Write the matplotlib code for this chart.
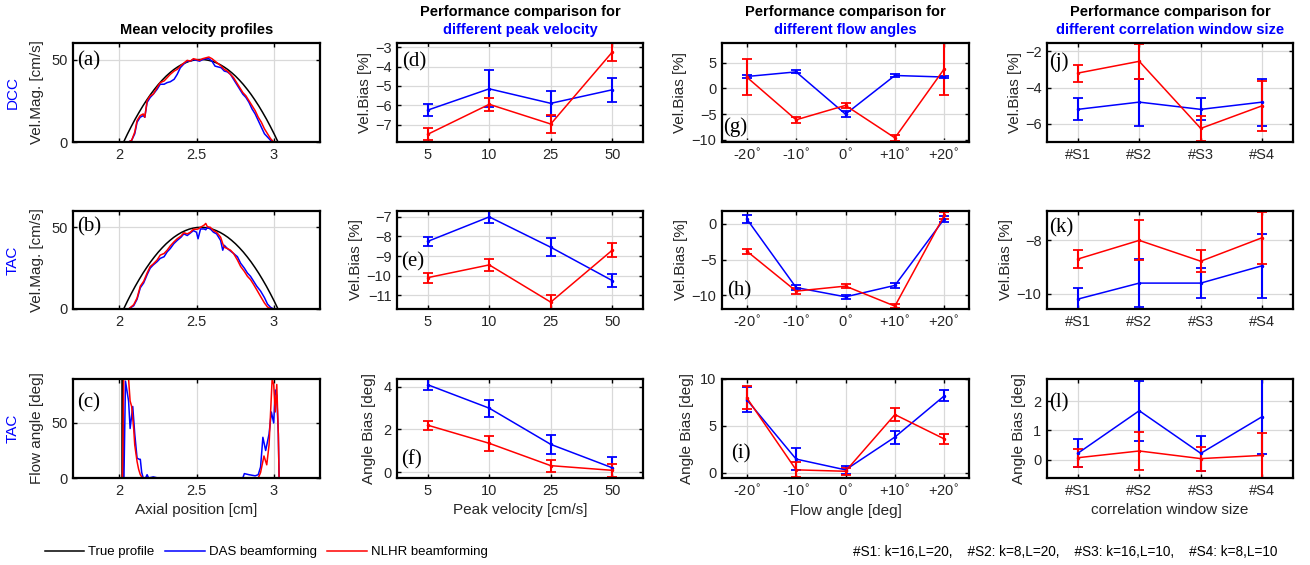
import matplotlib
matplotlib.use("Agg")
import matplotlib.pyplot as plt
from matplotlib.lines import Line2D

plt.rcParams['font.family'] = ['Liberation Sans', 'DejaVu Sans']

BLUE = (0, 0, 1)
RED = (1, 0, 0)

# ---- velocity profile data (axial position [cm], velocity [cm/s]) ----
true_x = [1.70, 2.028, 2.053, 2.078, 2.103, 2.128, 2.153, 2.178, 2.203, 2.228, 2.253,
          2.278, 2.303, 2.328, 2.353, 2.378, 2.403, 2.428, 2.453, 2.478, 2.503, 2.528,
          2.553, 2.578, 2.603, 2.628, 2.653, 2.678, 2.703, 2.728, 2.753, 2.778, 2.803,
          2.828, 2.853, 2.878, 2.903, 2.928, 2.953, 2.978, 3.003, 3.028, 3.30]
true_v = [0, 0, 4.9, 9.5, 13.9, 18.0, 21.9, 25.5, 28.9, 32.0, 34.9,
          37.5, 39.9, 42.0, 43.9, 45.5, 46.9, 48.0, 48.9, 49.5, 49.9, 50.0,
          49.9, 49.5, 48.9, 48.0, 46.9, 45.5, 43.9, 42.0, 39.9, 37.5, 34.9,
          32.0, 28.9, 25.5, 21.9, 18.0, 13.9, 9.5, 4.9, 0, 0]

a_x = [1.70, 2.06, 2.08, 2.10, 2.115, 2.135, 2.155, 2.165, 2.18, 2.20, 2.22, 2.245, 2.265,
       2.29, 2.31, 2.33, 2.355, 2.375, 2.395, 2.42, 2.44, 2.46, 2.48, 2.50, 2.52, 2.54,
       2.56, 2.58, 2.60, 2.62, 2.64, 2.66, 2.68, 2.70, 2.72, 2.74, 2.76, 2.78, 2.80, 2.82,
       2.84, 2.86, 2.88, 2.90, 2.92, 2.94, 2.96, 2.98, 3.00, 3.30]
a_das = [0, 0, 1, 5, 12, 15, 16, 15, 24, 27, 29, 32, 35,
         35, 36, 36.5, 38, 41, 45, 47.5, 49, 49, 50, 49.5, 49, 50,
         50.5, 50.5, 49, 46, 45.5, 45, 43, 42.5, 41, 38, 35, 32, 29, 27,
         24, 20, 17, 13, 9, 5, 3, 1, 0, 0]
a_nlhr = [0, 0, 1, 6, 13, 16, 17, 15, 25, 28, 29, 33, 36,
          37, 39, 41, 43, 44, 46, 48, 49.5, 49, 50.5, 50, 49.5, 50.5,
          51, 51.5, 50.5, 49, 47.5, 46, 44, 43, 41, 39, 36, 33, 30, 28,
          25, 22, 19, 15, 12, 8, 5, 2, 0, 0]

b_x = [1.70, 2.06, 2.093, 2.115, 2.136, 2.158, 2.18, 2.20, 2.22, 2.245, 2.265, 2.29, 2.31,
       2.33, 2.353, 2.375, 2.40, 2.418, 2.44, 2.46, 2.48, 2.50, 2.51, 2.526, 2.55, 2.56,
       2.57, 2.59, 2.61, 2.63, 2.656, 2.67, 2.68, 2.70, 2.72, 2.74, 2.765, 2.786, 2.81,
       2.83, 2.85, 2.87, 2.89, 2.915, 2.94, 2.96, 2.98, 3.00, 3.30]
b_das = [0, 0, 2, 6, 13, 16, 21, 25, 27, 29, 31, 32, 35,
         37, 40, 42, 44, 46, 45, 46.5, 48, 47, 43, 49, 49, 48.5,
         50, 49, 47, 46, 42, 36, 39, 37, 35.5, 34, 32, 28, 25,
         22, 20, 17, 14, 11, 7, 3, 1, 0, 0]
b_nlhr = [0, 0, 2.6, 6.7, 14, 17, 22, 26, 27.6, 30, 33, 34, 36,
          38.6, 41, 43, 44.7, 46.7, 46, 47, 48.8, 48.8, 49, 50, 51.4, 52.4,
          50.4, 50, 48, 47, 44, 40, 37.8, 37, 36, 34, 30, 26, 23,
          20, 18, 15, 11.8, 7.7, 3.7, 1.2, 0.3, 0, 0]

# ---- flow angle data (axial position [cm], angle [deg]) ----
c_true_x = [1.70, 2.02, 2.02, 2.024, 2.024, 3.30]
c_true_v = [0, 0, 90, 90, 0, 0]
c_das_x = [1.70, 2.03, 2.04, 2.06, 2.07, 2.087, 2.10, 2.115, 2.13, 2.136, 2.145, 2.155,
           2.17, 2.18, 2.19, 2.22, 2.25, 2.80, 2.81, 2.84, 2.88, 2.90, 2.915, 2.93,
           2.948, 2.97, 2.985, 3.00, 3.01, 3.02, 3.03, 3.035, 3.30]
c_das_v = [0, 0, 88, 70, 45, 65, 40, 18, 17, 17, 5, 0,
           0, 3, 0, 1, 0, 0, 4, 3, 2, 3, 10, 37,
           25, 40, 60, 50, 80, 75, 40, 0, 0]
c_nlhr_x = [1.70, 2.02, 2.028, 2.06, 2.07, 2.08, 2.093, 2.10, 2.115, 2.125, 2.136, 2.15,
            2.90, 2.915, 2.937, 2.955, 2.97, 2.98, 2.99, 3.00, 3.01, 3.02, 3.03, 3.035, 3.30]
c_nlhr_v = [0, 0, 90, 90, 70, 65, 45, 30, 15, 8, 3, 0,
            0, 5, 20, 12, 30, 60, 90, 85, 60, 85, 40, 0, 0]

# ---- performance comparison data: mean and half error bar ----
peak_labels = ['5', '10', '25', '50']
angle_labels = ['-20$^{\\circ}$', '-10$^{\\circ}$', '0$^{\\circ}$', '+10$^{\\circ}$', '+20$^{\\circ}$']
win_labels = ['#S1', '#S2', '#S3', '#S4']

d_das, d_das_err = [-6.25, -5.15, -5.9, -5.2], [0.3, 0.95, 0.65, 0.62]
d_nlhr, d_nlhr_err = [-7.5, -5.95, -6.97, -3.25], [0.3, 0.35, 0.47, 0.47]
e_das, e_das_err = [-8.25, -7.0, -8.55, -10.25], [0.22, 0.3, 0.45, 0.33]
e_nlhr, e_nlhr_err = [-10.1, -9.45, -11.35, -8.7], [0.25, 0.3, 0.35, 0.35]
f_das, f_das_err = [4.1, 3.0, 1.3, 0.2], [0.25, 0.4, 0.45, 0.5]
f_nlhr, f_nlhr_err = [2.2, 1.35, 0.3, 0.08], [0.22, 0.35, 0.28, 0.3]

g_das, g_das_err = [2.3, 3.2, -5.0, 2.5, 2.2], [0.2, 0.3, 0.6, 0.3, 0.2]
g_nlhr, g_nlhr_err = [2.2, -6.1, -3.3, -9.6, 3.8], [3.5, 0.6, 0.5, 0.6, 5.0]
h_das, h_das_err = [0.7, -8.9, -10.2, -8.6, 0.7], [0.55, 0.3, 0.3, 0.35, 0.4]
h_nlhr, h_nlhr_err = [-3.8, -9.4, -8.7, -11.5, 1.2], [0.35, 0.4, 0.25, 0.3, 0.5]
i_das, i_das_err = [7.8, 1.45, 0.3, 3.8, 8.2], [1.3, 1.2, 0.4, 0.7, 0.6]
i_nlhr, i_nlhr_err = [8.0, 0.3, 0.15, 6.2, 3.6], [1.2, 0.8, 0.4, 0.7, 0.55]

j_das, j_das_err = [-5.2, -4.8, -5.2, -4.8], [0.6, 1.3, 0.6, 1.3]
j_nlhr, j_nlhr_err = [-3.2, -2.55, -6.25, -5.0], [0.47, 0.98, 0.7, 1.38]
k_das, k_das_err = [-10.2, -9.6, -9.6, -8.95], [0.4, 0.9, 0.55, 1.2]
k_nlhr, k_nlhr_err = [-8.7, -8.0, -8.78, -7.9], [0.35, 0.75, 0.42, 0.97]
l_das, l_das_err = [0.22, 1.67, 0.22, 1.47], [0.48, 1.02, 0.6, 1.28]
l_nlhr, l_nlhr_err = [0.07, 0.3, 0.04, 0.15], [0.3, 0.65, 0.41, 0.77]

# ---- layout (pixel boxes of the reference) ----
W, H = 1310, 565
fig = plt.figure(figsize=(W / 100, H / 100), dpi=100)
col_px = [(73, 320), (397, 643), (722, 969), (1047, 1293)]
row_px = [(43, 142), (211, 309), (379, 478)]


def make_ax(r, c):
    x0, x1 = col_px[c]
    y0, y1 = row_px[r]
    ax = fig.add_axes([x0 / W, 1 - y1 / H, (x1 - x0) / W, (y1 - y0) / H])
    ax.grid(True, color='#d9d9d9', lw=0.9)
    ax.set_axisbelow(True)
    for s in ax.spines.values():
        s.set_linewidth(1.6)
    ax.tick_params(direction='in', top=True, right=True, length=3, width=1,
                   labelsize=10.5, labelcolor='#262626', pad=4)
    return ax


def panel_label(ax, txt, x, y):
    ax.text(x, y, txt, transform=ax.transAxes, family='Liberation Serif',
            fontsize=15, ha='left', va='center')


def ylab(ax, txt, xoff):
    ax.set_ylabel(txt, fontsize=11, color='#262626', va='center')
    ax.yaxis.set_label_coords(xoff, 0.5)


def perf(ax, labels, das, das_err, nlhr, nlhr_err, ylim, yticks):
    pos = list(range(1, len(labels) + 1))
    for m, e, col in ((das, das_err, BLUE), (nlhr, nlhr_err, RED)):
        ax.errorbar(pos, m, yerr=e, color=col, lw=1.1, elinewidth=1.5,
                    capsize=3.5, capthick=1.3, marker='.', ms=3)
    ax.set_xlim(0.5, len(labels) + 0.5)
    ax.set_xticks(pos)
    ax.set_xticklabels(labels)
    ax.set_ylim(*ylim)
    ax.set_yticks(yticks)


# column 1: profiles
for r, (px, das, nlhr, lab) in enumerate([(a_x, a_das, a_nlhr, '(a)'),
                                         (b_x, b_das, b_nlhr, '(b)')]):
    ax = make_ax(r, 0)
    ax.plot(true_x, true_v, color='k', lw=1.1)
    ax.plot(px, das, color=BLUE, lw=1.1)
    ax.plot(px, nlhr, color=RED, lw=1.1)
    ax.set_xlim(1.7, 3.3)
    ax.set_ylim(0, 60)
    ax.set_xticks([2, 2.5, 3])
    ax.set_xticklabels(['2', '2.5', '3'])
    ax.set_yticks([0, 50])
    ylab(ax, 'Vel.Mag. [cm/s]', -0.146)
    panel_label(ax, lab, 0.018, 0.82 if r == 0 else 0.84)

ax = make_ax(2, 0)
ax.plot(c_true_x, c_true_v, color='k', lw=1.1)
ax.plot(c_das_x, c_das_v, color=BLUE, lw=1.1)
ax.plot(c_nlhr_x, c_nlhr_v, color=RED, lw=1.1)
ax.set_xlim(1.7, 3.3)
ax.set_ylim(0, 90)
ax.set_xticks([2, 2.5, 3])
ax.set_xticklabels(['2', '2.5', '3'])
ax.set_yticks([0, 50])
ylab(ax, 'Flow angle [deg]', -0.146)
ax.set_xlabel('Axial position [cm]', fontsize=11, color='#262626')
panel_label(ax, '(c)', 0.018, 0.76)

# column 2: peak velocity
ax = make_ax(0, 1)
perf(ax, peak_labels, d_das, d_das_err, d_nlhr, d_nlhr_err, (-7.9, -2.78), [-7, -6, -5, -4, -3])
ylab(ax, 'Vel.Bias [%]', -0.13)
panel_label(ax, '(d)', 0.02, 0.81)
ax = make_ax(1, 1)
perf(ax, peak_labels, e_das, e_das_err, e_nlhr, e_nlhr_err, (-11.7, -6.7), [-11, -10, -9, -8, -7])
ylab(ax, 'Vel.Bias [%]', -0.168)
panel_label(ax, '(e)', 0.016, 0.48)
ax = make_ax(2, 1)
perf(ax, peak_labels, f_das, f_das_err, f_nlhr, f_nlhr_err, (-0.28, 4.37), [0, 2, 4])
ylab(ax, 'Angle Bias [deg]', -0.115)
ax.set_xlabel('Peak velocity [cm/s]', fontsize=11, color='#262626')
panel_label(ax, '(f)', 0.016, 0.18)

# column 3: flow angles
ax = make_ax(0, 2)
perf(ax, angle_labels, g_das, g_das_err, g_nlhr, g_nlhr_err, (-10.4, 8.8), [-10, -5, 0, 5])
ylab(ax, 'Vel.Bias [%]', -0.17)
panel_label(ax, '(g)', 0.006, 0.15)
ax = make_ax(1, 2)
perf(ax, angle_labels, h_das, h_das_err, h_nlhr, h_nlhr_err, (-11.9, 1.8), [-10, -5, 0])
ylab(ax, 'Vel.Bias [%]', -0.165)
panel_label(ax, '(h)', 0.02, 0.19)
ax = make_ax(2, 2)
perf(ax, angle_labels, i_das, i_das_err, i_nlhr, i_nlhr_err, (-0.57, 10), [0, 5, 10])
ylab(ax, 'Angle Bias [deg]', -0.142)
ax.set_xlabel('Flow angle [deg]', fontsize=11, color='#262626')
panel_label(ax, '(i)', 0.035, 0.24)

# column 4: correlation window size
ax = make_ax(0, 3)
perf(ax, win_labels, j_das, j_das_err, j_nlhr, j_nlhr_err, (-7.0, -1.54), [-6, -4, -2])
ylab(ax, 'Vel.Bias [%]', -0.13)
panel_label(ax, '(j)', 0.01, 0.81)
ax = make_ax(1, 3)
perf(ax, win_labels, k_das, k_das_err, k_nlhr, k_nlhr_err, (-10.57, -6.9), [-10, -8])
ylab(ax, 'Vel.Bias [%]', -0.168)
panel_label(ax, '(k)', 0.01, 0.83)
ax = make_ax(2, 3)
perf(ax, win_labels, l_das, l_das_err, l_nlhr, l_nlhr_err, (-0.62, 2.75), [0, 1, 2])
ylab(ax, 'Angle Bias [deg]', -0.115)
ax.set_xlabel('correlation window size', fontsize=11, color='#262626')
panel_label(ax, '(l)', 0.01, 0.76)

# titles
fig.text(196.5 / W, 1 - 30 / H, 'Mean velocity profiles', ha='center', va='center',
         fontsize=10.5, fontweight='bold')
for cx, sub in ((520, 'different peak velocity'), (845.5, 'different flow angles'),
                (1170, 'different correlation window size')):
    fig.text(cx / W, 1 - 12 / H, 'Performance comparison for', ha='center', va='center',
             fontsize=10.5, fontweight='bold')
    fig.text(cx / W, 1 - 30 / H, sub, ha='center', va='center',
             fontsize=10.5, fontweight='bold', color=BLUE)

# row labels
for (y0, y1), txt in zip(row_px, ['DCC', 'TAC', 'TAC']):
    fig.text(13 / W, 1 - (y0 + y1) / 2 / H, txt, rotation=90, ha='center', va='center',
             fontsize=11, color=BLUE)

# legend and window size note
handles = [Line2D([], [], color='k', lw=1.1), Line2D([], [], color=BLUE, lw=1.1),
           Line2D([], [], color=RED, lw=1.1)]
fig.legend(handles, ['True profile', 'DAS beamforming', 'NLHR beamforming'],
           loc='center left', bbox_to_anchor=(0.025, 1 - 552 / H), ncol=3, frameon=False,
           fontsize=9.5, handlelength=3.0, handletextpad=0.3, columnspacing=0.8)
fig.text(853 / W, 1 - 552 / H,
         '#S1: k=16,L=20,    #S2: k=8,L=20,    #S3: k=16,L=10,    #S4: k=8,L=10',
         ha='left', va='center', fontsize=9.8)

fig.savefig('out.png', dpi=100)
